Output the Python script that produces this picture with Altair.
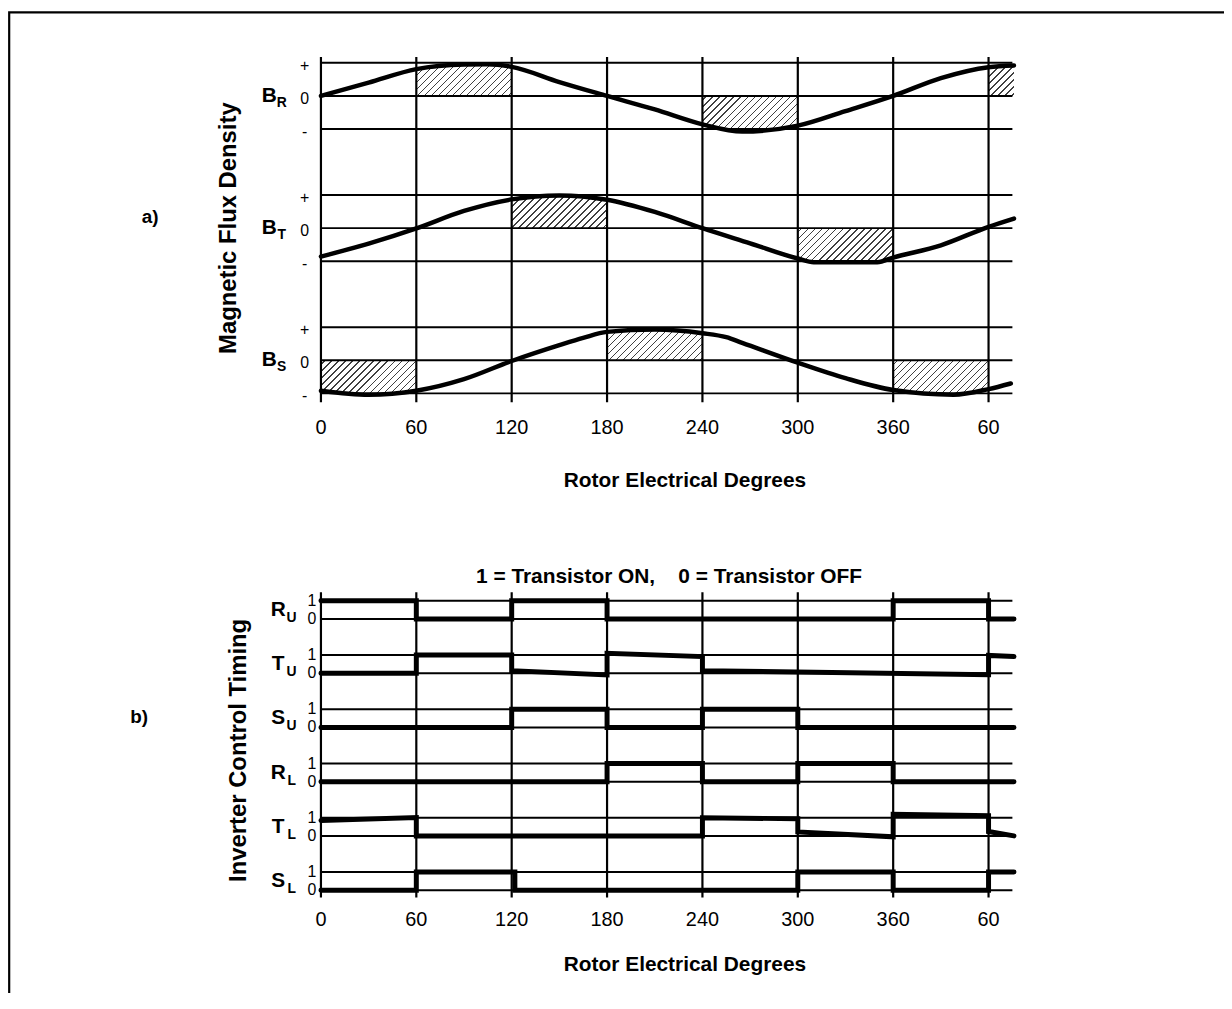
import math
import altair as alt
import pandas as pd

# ---------------- data ----------------
GRID_X = [0, 60, 120, 180, 240, 300, 360, 420]
TICK_LABELS = ["0", "60", "120", "180", "240", "300", "360", "60"]
X_END = 435

# panel a) magnetic flux density (value in units of peak, + = 1, - = -1)
FLUX_SUBS = ["R", "T", "S"]
FLUX_BASE = [8, 4, 0]
FLUX_LEVELS = [1, 0, -1]
FLUX_LEVEL_LABELS = ["+", "0", "-"]
BR_X = [0, 30, 60, 90, 105, 120, 150, 180, 210, 240, 265, 300, 330, 360, 390, 420, 436]
BR_V = [0.0, 0.40, 0.81, 0.95, 0.96, 0.88, 0.42, 0.0, -0.41, -0.86, -1.08, -0.90, -0.46, 0.0, 0.54, 0.87, 0.92]
BT_X = [0, 30, 60, 90, 120, 150, 180, 210, 240, 270, 300, 310, 350, 360, 390, 420, 436]
BT_V = [-0.86, -0.47, -0.01, 0.52, 0.87, 0.99, 0.86, 0.49, 0.0, -0.46, -0.92, -1.03, -1.03, -0.89, -0.52, 0.04, 0.29]
BS_X = [0, 30, 60, 90, 120, 150, 165, 180, 210, 240, 255, 265, 300, 330, 360, 398, 420, 434]
BS_V = [-0.92, -1.04, -0.92, -0.57, -0.02, 0.46, 0.68, 0.86, 0.93, 0.82, 0.70, 0.53, -0.07, -0.54, -0.90, -1.04, -0.87, -0.70]
HATCH = [("R", 60, 120), ("R", 240, 300), ("R", 420, 436),
         ("T", 120, 180), ("T", 300, 360),
         ("S", 0, 60), ("S", 180, 240), ("S", 360, 420)]

# panel b) inverter control timing (1 = ON, 0 = OFF)
SIG_MAIN = ["R", "T", "S", "R", "T", "S"]
SIG_SUBS = ["U", "U", "U", "L", "L", "L"]
SIG_BASE = [15, 12, 9, 6, 3, 0]
SIG_LEVELS = [1, 0]
SIG_LEVEL_LABELS = ["1", "0"]
RU_X = [0, 60, 60, 120, 120, 180, 180, 360, 360, 420, 420, 436]
RU_V = [1, 1, 0, 0, 1, 1, 0, 0, 1, 1, 0, 0]
TU_X = [0, 60, 60, 120, 120, 180, 180, 240, 240, 420, 420, 436]
TU_V = [0, 0, 1, 1, 0.14, -0.10, 1.10, 0.92, 0.14, -0.08, 0.98, 0.92]
SU_X = [0, 120, 120, 180, 180, 240, 240, 300, 300, 436]
SU_V = [0, 0, 1, 1, 0, 0, 1, 1, 0, 0]
RL_X = [0, 180, 180, 240, 240, 300, 300, 360, 360, 436]
RL_V = [0, 0, 1, 1, 0, 0, 1, 1, 0, 0]
TL_X = [0, 60, 60, 240, 240, 300, 300, 360, 360, 420, 420, 436]
TL_V = [0.85, 1.02, 0, 0, 1, 0.95, 0.22, -0.05, 1.2, 1.12, 0.24, 0.0]
SL_X = [0, 60, 60, 122, 122, 300, 300, 360, 360, 420, 420, 436]
SL_V = [0, 0, 1, 1, 0, 0, 1, 1, 0, 0, 1, 1]

X_TITLE = "Rotor Electrical Degrees"
Y_TITLE_A = "Magnetic Flux Density"
Y_TITLE_B = "Inverter Control Timing"
TITLE_B = "1 = Transistor ON,\u00a0\u00a0\u00a0 0 = Transistor OFF"

# ---------------- layout / style ----------------
FONT = "Liberation Sans"
PLOT_W, PLOT_H = 696, 846
PX_PER_DEG = PLOT_W / X_END
UNIT_A = 33.27
DOM_A = [-16.25, 9.18]
DOM_B = [-0.40, 46.08]
VGRID_A = (-1.27, 9.18)
VGRID_B = (-0.40, 16.47)
INTERP = "monotone"


def xs(field):
    return alt.X(field, type="quantitative",
                 scale=alt.Scale(domain=[0, X_END], nice=False, zero=False), axis=None)


def ys(field, dom):
    return alt.Y(field, type="quantitative",
                 scale=alt.Scale(domain=dom, nice=False, zero=False), axis=None)


def hatch_gradient(w, h, d=5.0, lw=1.0, color="#404040"):
    lam = (w + h) / (w * w + h * h)
    a, b = lam * w, lam * h
    p = d * math.sqrt(2) / (w + h)
    q = lw * math.sqrt(2) / (w + h)
    stops = [alt.GradientStop(color="white", offset=0)]
    off = p / 2
    while off + q < 1:
        stops += [alt.GradientStop(color="white", offset=off),
                  alt.GradientStop(color=color, offset=off),
                  alt.GradientStop(color=color, offset=off + q),
                  alt.GradientStop(color="white", offset=off + q)]
        off += p
    stops.append(alt.GradientStop(color="white", offset=1))
    return alt.LinearGradient(gradient="linear", stops=stops, x1=0, y1=0, x2=a, y2=b)


def text_layer(df, dom, size, weight="normal", x=None, xfield=None, dy=0, align="center", angle=0):
    enc = dict(y=ys("y", dom), text="t:N")
    if xfield is not None:
        enc["x"] = xs(xfield)
    else:
        enc["x"] = alt.value(x)
    return alt.Chart(df).mark_text(font=FONT, fontSize=size, fontWeight=weight, color="black",
                                   align=align, baseline="middle", dy=dy, angle=angle).encode(**enc)


# ---------------- panel a ----------------
curves = {"R": (BR_X, BR_V), "T": (BT_X, BT_V), "S": (BS_X, BS_V)}
base_of = dict(zip(FLUX_SUBS, FLUX_BASE))

layers_a = []
for sub, x0, x1 in HATCH:
    cx, cv = curves[sub]
    pts = [(x, v) for x, v in zip(cx, cv) if x0 <= x <= x1]
    base = base_of[sub]
    df = pd.DataFrame({"x": [p[0] for p in pts], "y": [base + p[1] for p in pts],
                       "b": [base] * len(pts)})
    w = (x1 - x0) * PX_PER_DEG
    h = max(abs(p[1]) for p in pts) * UNIT_A
    layers_a.append(alt.Chart(df).mark_area(fill=hatch_gradient(w, h), strokeWidth=0,
                                            interpolate=INTERP).encode(
        x=xs("x"), y=ys("y", DOM_A), y2=alt.Y2("b")))

hgrid_a = pd.DataFrame([{"x0": 0, "x1": X_END, "y": b + lv} for b in FLUX_BASE for lv in FLUX_LEVELS])
layers_a.append(alt.Chart(hgrid_a).mark_rule(color="black", strokeWidth=2).encode(
    x=xs("x0"), x2="x1", y=ys("y", DOM_A)))
vgrid_a = pd.DataFrame({"x": GRID_X, "y0": VGRID_A[0], "y1": VGRID_A[1]})
layers_a.append(alt.Chart(vgrid_a).mark_rule(color="black", strokeWidth=2.2).encode(
    x=xs("x"), y=ys("y0", DOM_A), y2="y1"))

curve_rows = []
for sub in FLUX_SUBS:
    cx, cv = curves[sub]
    for i, (x, v) in enumerate(zip(cx, cv)):
        curve_rows.append({"trace": sub, "i": i, "x": x, "y": base_of[sub] + v})
layers_a.append(alt.Chart(pd.DataFrame(curve_rows)).mark_line(
    color="black", strokeWidth=4.5, strokeCap="round", strokeJoin="round", interpolate=INTERP).encode(
    x=xs("x"), y=ys("y", DOM_A), detail="trace:N", order="i:Q"))

lvl_a = pd.DataFrame([{"y": b + lv, "t": lab} for b in FLUX_BASE
                      for lv, lab in zip(FLUX_LEVELS, FLUX_LEVEL_LABELS)])
layers_a.append(text_layer(lvl_a, DOM_A, 16, x=-16.5, dy=3))
rowlab_a = pd.DataFrame({"y": FLUX_BASE, "t": ["B"] * 3})
layers_a.append(text_layer(rowlab_a, DOM_A, 21, "bold", x=-52, dy=0))
rowsub_a = pd.DataFrame({"y": FLUX_BASE, "t": FLUX_SUBS})
layers_a.append(text_layer(rowsub_a, DOM_A, 14, "bold", x=-39.5, dy=7))
ticks_a = pd.DataFrame({"x": GRID_X, "y": -2.06, "t": TICK_LABELS})
layers_a.append(text_layer(ticks_a, DOM_A, 20, xfield="x"))
layers_a.append(text_layer(pd.DataFrame({"x": [229], "y": [-3.65], "t": [X_TITLE]}), DOM_A, 21, "bold", xfield="x"))
layers_a.append(text_layer(pd.DataFrame({"y": [4.0], "t": [Y_TITLE_A]}), DOM_A, 24, "bold", x=-92, angle=270))
layers_a.append(text_layer(pd.DataFrame({"y": [4.34], "t": ["a)"]}), DOM_A, 19, "bold", x=-172))
layers_a.append(alt.Chart(pd.DataFrame({"k": [0]})).mark_rect(
    filled=False, stroke="black", strokeWidth=2.2).encode(
    x=alt.value(-313.8), x2=alt.value(1400), y=alt.value(-44.8), y2=alt.value(1400)))

panel_a = alt.layer(*layers_a)

# ---------------- panel b ----------------
sigs = [(RU_X, RU_V), (TU_X, TU_V), (SU_X, SU_V), (RL_X, RL_V), (TL_X, TL_V), (SL_X, SL_V)]
layers_b = []
hgrid_b = pd.DataFrame([{"x0": 0, "x1": X_END, "y": b + lv} for b in SIG_BASE for lv in SIG_LEVELS])
layers_b.append(alt.Chart(hgrid_b).mark_rule(color="black", strokeWidth=2).encode(
    x=xs("x0"), x2="x1", y=ys("y", DOM_B)))
vgrid_b = pd.DataFrame({"x": GRID_X, "y0": VGRID_B[0], "y1": VGRID_B[1]})
layers_b.append(alt.Chart(vgrid_b).mark_rule(color="black", strokeWidth=2.2).encode(
    x=xs("x"), y=ys("y0", DOM_B), y2="y1"))
sig_rows = []
for k, ((sx, sv), base) in enumerate(zip(sigs, SIG_BASE)):
    for i, (x, v) in enumerate(zip(sx, sv)):
        sig_rows.append({"sig": k, "i": i, "x": x, "y": base + v})
layers_b.append(alt.Chart(pd.DataFrame(sig_rows)).mark_line(
    color="black", strokeWidth=5, strokeCap="round", strokeJoin="miter").encode(
    x=xs("x"), y=ys("y", DOM_B), detail="sig:N", order="i:Q"))

lvl_b = pd.DataFrame([{"y": b + lv, "t": lab} for b in SIG_BASE
                      for lv, lab in zip(SIG_LEVELS, SIG_LEVEL_LABELS)])
layers_b.append(text_layer(lvl_b, DOM_B, 16, x=-9))
rowlab_b = pd.DataFrame({"y": [b + 0.5 for b in SIG_BASE], "t": SIG_MAIN})
layers_b.append(text_layer(rowlab_b, DOM_B, 21, "bold", x=-43))
rowsub_b = pd.DataFrame({"y": [b + 0.5 for b in SIG_BASE], "t": SIG_SUBS})
layers_b.append(text_layer(rowsub_b, DOM_B, 14, "bold", x=-29.5, dy=8))
ticks_b = pd.DataFrame({"x": GRID_X, "y": -1.66, "t": TICK_LABELS})
layers_b.append(text_layer(ticks_b, DOM_B, 20, xfield="x"))
layers_b.append(text_layer(pd.DataFrame({"x": [229], "y": [-4.14], "t": [X_TITLE]}), DOM_B, 21, "bold", xfield="x"))
layers_b.append(text_layer(pd.DataFrame({"x": [219], "y": [17.29], "t": [TITLE_B]}), DOM_B, 21, "bold", xfield="x"))
layers_b.append(text_layer(pd.DataFrame({"y": [7.73], "t": [Y_TITLE_B]}), DOM_B, 24, "bold", x=-82, angle=270))
layers_b.append(text_layer(pd.DataFrame({"y": [9.6], "t": ["b)"]}), DOM_B, 19, "bold", x=-183))

panel_b = alt.layer(*layers_b)

chart = alt.layer(panel_a, panel_b).resolve_scale(y="independent").properties(
    width=PLOT_W, height=PLOT_H,
    padding={"left": 315, "top": 46, "right": 213, "bottom": 93},
    autosize=alt.AutoSizeParams(type="none"),
    background="white",
).configure_view(stroke="transparent")

chart.save("out.html", embed_options={"renderer": "svg", "actions": False})
